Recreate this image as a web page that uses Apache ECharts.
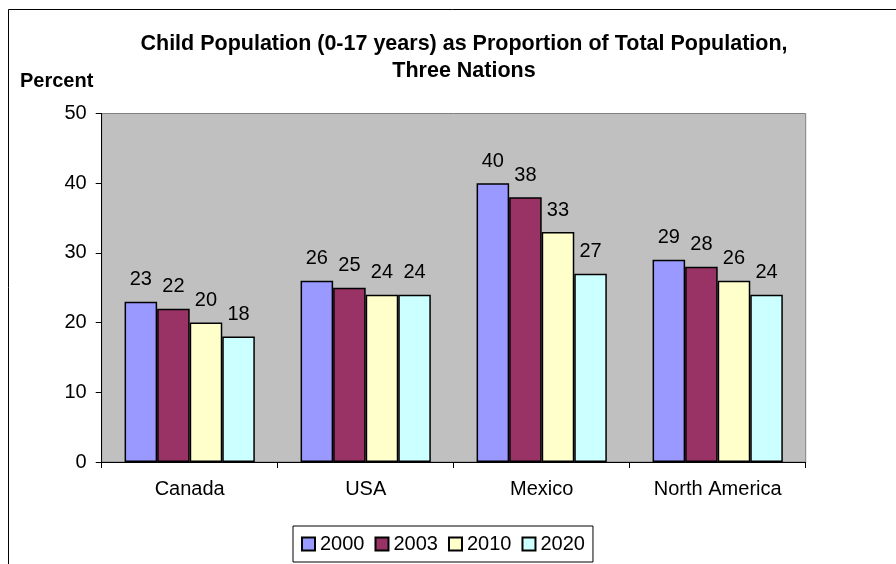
<!DOCTYPE html>
<html>
<head>
<meta charset="utf-8">
<script src="https://cdn.jsdelivr.net/npm/echarts@6/dist/echarts.min.js"></script>
<style>
	html, body { margin: 0; padding: 0; background: #fff; }
	#chart { width: 896px; height: 564px; }
</style>
</head>
<body>
<div id="chart"></div>
<script>
var categories = ["Canada", "USA", "Mexico", "North America"];
var years = ["2000", "2003", "2010", "2020"];
var values2000 = [23, 26, 40, 29];
var values2003 = [22, 25, 38, 28];
var values2010 = [20, 24, 33, 26];
var values2020 = [18, 24, 27, 24];
var colors = ["#9999FF", "#993366", "#FFFFCC", "#CCFFFF"];

var font = "Liberation Sans, Arial, sans-serif";
var seriesData = [values2000, values2003, values2010, values2020];

var myChart = echarts.init(document.getElementById("chart"), null, {
	renderer: "canvas"
});

var series = seriesData.map(function (d, i) {
	return {
		name: years[i],
		type: "bar",
		data: d,
		barGap: "0%",
		barCategoryGap: "26%",
		itemStyle: {
			color: colors[i],
			borderColor: "#000",
			borderWidth: 1.5
		},
		label: {
			show: true,
			position: "top",
			distance: 12,
			color: "#000",
			fontSize: 20,
			fontFamily: font
		}
	};
});

var option = {
	animation: false,
	backgroundColor: "#fff",
	title: {
		text: "Child Population (0-17 years) as Proportion of Total Population,\nThree Nations",
		left: 464,
		top: 30.5,
		padding: 0,
		textAlign: "center",
		textStyle: {
			fontSize: 21.5,
			fontWeight: "bold",
			fontFamily: font,
			color: "#000",
			lineHeight: 27
		}
	},
	graphic: [
		{
			type: "rect",
			shape: { x: 8.5, y: 9.5, width: 900, height: 600 },
			style: { fill: "none", stroke: "#000", lineWidth: 1 },
			z: 0
		},
		{
			type: "text",
			left: 20,
			top: 71,
			style: {
				text: "Percent",
				font: "bold 20px " + font,
				fill: "#000"
			}
		}
	],
	legend: {
		data: years,
		icon: "rect",
		left: 293,
		top: 526,
		itemWidth: 13,
		itemHeight: 13,
		itemGap: 10,
		padding: [8, 8, 8, 8],
		borderColor: "#000",
		borderWidth: 1,
		textStyle: {
			fontSize: 20,
			fontFamily: font,
			color: "#000"
		}
	},
	grid: {
		left: 101.7,
		right: 90.3,
		top: 113.5,
		bottom: 102,
		show: true,
		backgroundColor: "#C0C0C0",
		borderColor: "#808080",
		borderWidth: 1
	},
	xAxis: {
		type: "category",
		data: categories,
		axisLine: { lineStyle: { color: "#000", width: 1 } },
		axisTick: { show: true, length: 6, lineStyle: { color: "#000" } },
		axisLabel: {
			fontSize: 20,
			fontFamily: font,
			color: "#000",
			margin: 17
		}
	},
	yAxis: {
		type: "value",
		min: 0,
		max: 50,
		interval: 10,
		axisLine: { show: true, lineStyle: { color: "#000", width: 1 } },
		axisTick: { show: true, length: 6, lineStyle: { color: "#000" } },
		splitLine: { show: false },
		axisLabel: {
			fontSize: 20,
			fontFamily: font,
			color: "#000",
			margin: 15
		}
	},
	series: series
};
myChart.setOption(option);
window.addEventListener("resize", myChart.resize);
</script>
</body>
</html>
